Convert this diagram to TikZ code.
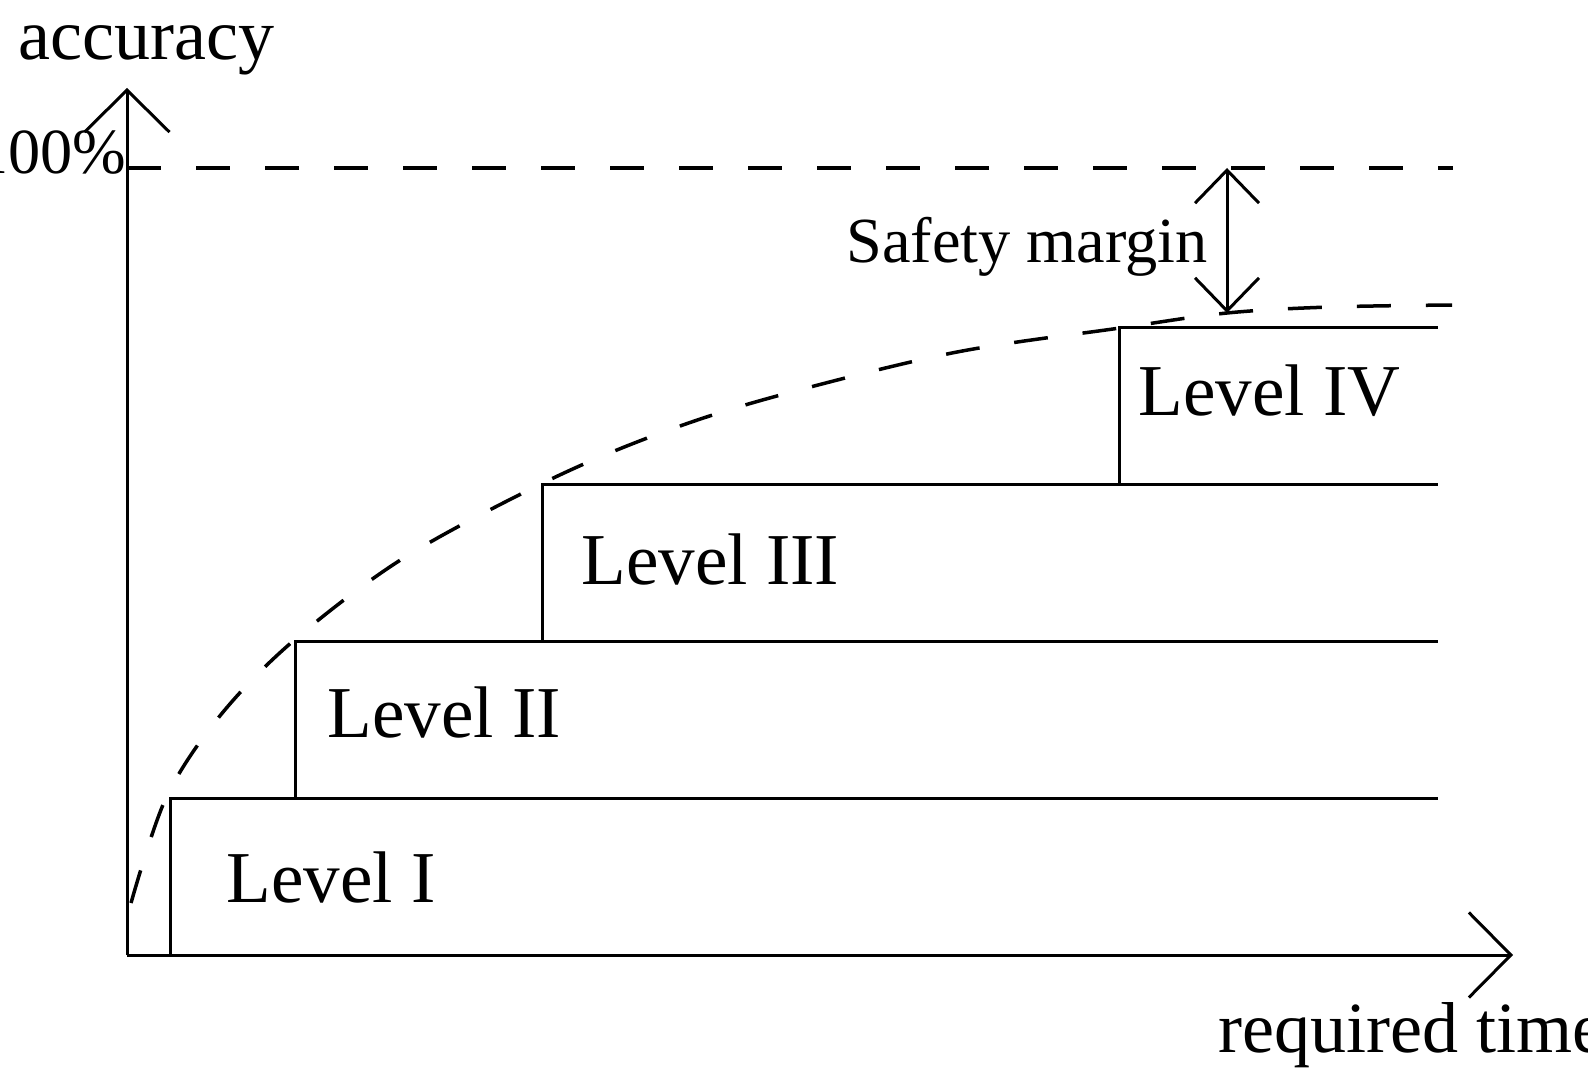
\documentclass[tikz,border=0pt]{standalone}
\usepackage{fontspec}
\setmainfont{Liberation Serif}
\usetikzlibrary{arrows.meta}
\begin{document}
\begin{tikzpicture}[line width=0.03cm,
		axisarrow/.style={-{Straight Barb[length=0.42cm,width=0.85cm]}},
		marginarrow/.style={{Straight Barb[length=0.33cm,width=0.64cm]}-{Straight Barb[length=0.33cm,width=0.64cm]}},
		guide/.style={line width=0.035cm, dash pattern=on 0.34cm off 0.35cm},
		lbl/.style={anchor=base west, inner sep=0pt, font=\fontsize{20.8}{24}\selectfont},
		small/.style={inner sep=0pt, font=\fontsize{18.3}{22}\selectfont}]
		\useasboundingbox (0,0) rectangle (15.88,10.70);
		% axes
		\coordinate (o) at (1.27,1.15);
		\coordinate (ytop) at (1.27,9.82);
		\coordinate (xend) at (15.13,1.15);
		\coordinate (full) at (1.27,9.02);
		\coordinate (fullend) at (14.53,9.02);
		\draw[axisarrow] (o) -- (ytop);
		\draw[axisarrow] (o) -- (xend);
		\node[lbl, font=\fontsize{20.5}{24}\selectfont] (acc) at (0.17,10.10) {accuracy};
		\node[lbl, font=\fontsize{20.5}{24}\selectfont] (rt) at (12.17,0.18) {required time};
		\node[small, anchor=base east] (pct) at (1.28,8.96) {100\%};
		\draw[guide] (full) -- (fullend);
		% levels
		\foreach \x/\y/\yb [count=\i] in {1.70/2.72/1.15, 2.95/4.29/2.72, 5.42/5.86/4.29, 11.19/7.43/5.86}{
			\coordinate (c\i) at (\x,\y);
			\draw (\x,\yb) -- (c\i) -- (14.38,\y);
		}
		\node[lbl] (l1) at (2.25,1.68) {Level I};
		\node[lbl] (l2) at (3.26,3.33) {Level II};
		\node[lbl] (l3) at (5.80,4.86) {Level III};
		\node[lbl] (l4) at (11.37,6.55) {Level IV};
		% achievable accuracy
		\coordinate (m) at (12.27,7.57);
		\draw[guide] plot[smooth, tension=0.55] coordinates {(1.31,1.67) (1.66,2.72) (2.19,3.53) (2.92,4.28) (4.02,5.11) (5.41,5.86) (6.50,6.33) (7.66,6.71) (9.52,7.17) (11.20,7.42) (m) (13.30,7.63) (14.52,7.65)};
		% safety margin
		\draw[marginarrow] (full -| m) -- (m);
		\node[small, anchor=base west] (safe) at (8.45,8.08) {Safety margin};
	\end{tikzpicture}
\end{document}
